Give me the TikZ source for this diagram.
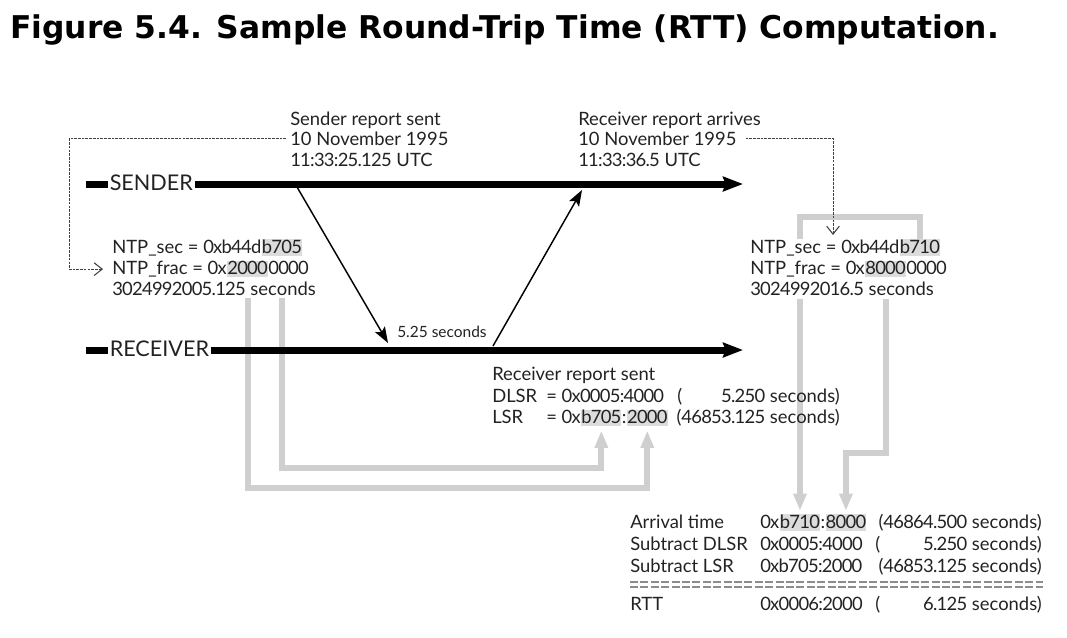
\documentclass[tikz,border=0pt]{standalone}
\usepackage{fontspec}
\setmainfont{Lato}
\newfontfamily\titlefont{DejaVu Sans}
\newcommand\hexsp{\addfontfeature{LetterSpace=-4}}
\usetikzlibrary{arrows.meta,calc}
\pgfdeclarelayer{background}
\pgfsetlayers{background,main}
\definecolor{ink}{HTML}{222222}
\definecolor{hlgray}{HTML}{DCDCDC}
\definecolor{glgray}{HTML}{CFCFCF}
\definecolor{sepgray}{HTML}{8C8C8C}
\begin{document}
\begin{tikzpicture}[x=0.75pt,y=-0.75pt,
  txt/.style={anchor=base west, inner sep=0pt, font=\fontsize{13.8}{17}\selectfont, text=ink},
  txtr/.style={txt, anchor=base east},
  hl/.style={txt, font=\fontsize{13.8}{17}\selectfont\hexsp, fill=hlgray, text height=10pt, text depth=1.7pt, inner ysep=0.4pt},
  lbl/.style={anchor=base west, inner sep=1.5pt, font=\fontsize{16.2}{19}\selectfont, text=ink},
  small/.style={anchor=base west, inner sep=0pt, font=\fontsize{11.6}{13}\selectfont, text=ink},
  barline/.style={line width=5.25pt, black},
  tline/.style={line width=5.25pt, black, -{Stealth[length=15pt,width=11pt,inset=2pt]}},
  msg/.style={line width=1.1pt, black, -{Stealth[length=12pt,width=8.5pt,inset=2.5pt]}},
  dl/.style={line width=0.6pt, black!75, dash pattern=on 2pt off 0.8pt, -{Straight Barb[length=6pt,width=9.5pt,line width=0.8pt]}},
  gl/.style={line width=4.5pt, glgray},
  gla/.style={gl, -{Triangle[length=13pt,width=9.5pt]}},
  sepl/.style={line width=1.5pt, sepgray, dash pattern=on 6pt off 1.8pt}
]
\useasboundingbox (0,0) rectangle (1067,637);

% title
\node[anchor=base west, inner sep=0pt, font=\titlefont\bfseries\fontsize{23.5}{28}\selectfont] (title) at (10,38) {Figure 5.4. Sample Round-Trip Time (RTT) Computation.};

% timelines
\coordinate (sb0) at (86,184);
\node[lbl] (sendl) at (107.5,190.5) {SENDER};
\coordinate (send) at (743,184);
\draw[barline] (sb0) -- (sendl.west |- sb0);
\draw[tline] (sendl.east |- sb0) -- (send);

\coordinate (rb0) at (86,350);
\node[lbl] (recvl) at (107.5,356.5) {RECEIVER};
\coordinate (rend) at (743,350);
\draw[barline] (rb0) -- (recvl.west |- rb0);
\draw[tline] (recvl.east |- rb0) -- (rend);

% top labels
\node[txt] (sr1) at (290,125) {Sender report sent};
\node[txt] (sr2) at (290,145.5) {10 November 1995};
\node[txt] (sr3) at (290,166) {{\hexsp 11:33:25.125} UTC};
\node[txt] (ra1) at (578,125) {Receiver report arrives};
\node[txt] (ra2) at (578,145.5) {10 November 1995};
\node[txt] (ra3) at (578,166) {{\hexsp 11:33:36.5} UTC};

% left NTP block
\node[txt] (lsec0) at (112,253) {NTP\_sec = {\hexsp 0xb44d}};
\node[hl] (lsecB) at (lsec0.base east) {b705};
\node[txt] (lfrac0) at (112,274.5) {NTP\_frac = {\hexsp 0x}};
\node[hl] (lfracB) at (lfrac0.base east) {2000};
\node[txt] (lfracC) at (lfracB.base east) {{\hexsp 0000}};
\node[txt] (lsecs) at (112,295) {{\hexsp 3024992005.125} seconds};

% right NTP block
\node[txt] (rsec0) at (750,253) {NTP\_sec = {\hexsp 0xb44d}};
\node[hl] (rsecB) at (rsec0.base east) {b710};
\node[txt] (rfrac0) at (750,274.5) {NTP\_frac = {\hexsp 0x}};
\node[hl] (rfracB) at (rfrac0.base east) {8000};
\node[txt] (rfracC) at (rfracB.base east) {{\hexsp 0000}};
\node[txt] (rsecs) at (750,295) {{\hexsp 3024992016.5} seconds};

% messages
\coordinate (s1) at (297,187);
\coordinate (r1) at (388,343);
\coordinate (r2) at (493,346);
\coordinate (s2) at (582,190);
\draw[msg] (s1) -- (r1);
\draw[msg] (r2) -- (s2);
\node[small] (dt) at (397,337) {5.25 seconds};

% receiver report block
\node[txt] (rrs) at (492,380) {Receiver report sent};
\node[txt] (dlsrA) at (492,402) {DLSR};
\node[txt] (dlsrB) at (546,402) {= {\hexsp 0x0005:4000}};
\node[txt] (dlsrC) at (677,402) {(};
\node[txtr] (dlsrD) at (840,402) {{\hexsp 5.250} seconds)};
\node[txt] (lsrA) at (492,423.5) {LSR};
\node[txt] (lsrB0) at (546,423.5) {= {\hexsp 0x}};
\node[hl] (lsrB) at (lsrB0.base east) {b705};
\node[txt] (lsrC0) at (lsrB.base east) {:};
\node[hl] (lsrC) at (lsrC0.base east) {2000};
\node[txtr] (lsrD) at (840,423.5) {({\hexsp 46853.125} seconds)};

% bottom table
\node[txt] (t1a) at (630,528) {Arrival time};
\node[txt] (t1b0) at (760,528) {{\hexsp 0x}};
\node[hl] (arrB) at (t1b0.base east) {b710};
\node[txt] (t1c0) at (arrB.base east) {:};
\node[hl] (arrC) at (t1c0.base east) {8000};
\node[txtr] (t1d) at (1042,528) {({\hexsp 46864.500} seconds)};

\node[txt] (t2a) at (630,550) {Subtract DLSR};
\node[txt] (t2b) at (760,550) {{\hexsp 0x0005:4000}};
\node[txt] (t2c) at (875,550) {(};
\node[txtr] (t2d) at (1042,550) {{\hexsp 5.250} seconds)};

\node[txt] (t3a) at (630,572) {Subtract LSR};
\node[txt] (t3b) at (760,572) {{\hexsp 0xb705:2000}};
\node[txtr] (t3d) at (1042,572) {({\hexsp 46853.125} seconds)};

\coordinate (sepA1) at (630,582); \coordinate (sepA2) at (1043,582);
\coordinate (sepB1) at (630,587); \coordinate (sepB2) at (1043,587);
\draw[sepl] (sepA1) -- (sepA2);
\draw[sepl] (sepB1) -- (sepB2);

\node[txt] (t5a) at (630,610) {RTT};
\node[txt] (t5b) at (760,610) {{\hexsp 0x0006:2000}};
\node[txt] (t5c) at (875,610) {(};
\node[txtr] (t5d) at (1042,610) {{\hexsp 6.125} seconds)};

% dashed pointers
\draw[dl] ($(sr2.west)+(-4,0)$) -| ($(lfrac0.west)+(-43,0)$) -- ($(lfrac0.west)+(-9,0)$);
\coordinate (rdlend) at (833,235);
\draw[dl] ($(ra2.east)+(9,0)$) -| (rdlend);

\begin{pgfonlayer}{background}
% gray connectors, left
\coordinate (lbelow) at (0,298);
\coordinate (lin) at (0,468);
\coordinate (lout) at (0,488);
\draw[gla] (lfracB.south |- lbelow) -- (lfracB.south |- lout) -| ($(lsrC.south)+(0,4)$);
\draw[gla] (lsecB.south |- lbelow) -- (lsecB.south |- lin) -| ($(lsrB.south)+(0,4)$);

% gray connectors, right
\coordinate (rtop) at (0,217);
\coordinate (rbelow) at (0,299);
\coordinate (rkink) at (0,453);
\draw[gl] (rsecB.north) -- (rsecB.north |- rtop) -- (arrB.north |- rtop) -- (arrB.north |- rsecB.north);
\draw[gla] (arrB.north |- rbelow) -- ($(arrB.north)+(0,-3)$);
\draw[gla] (rfracB.south |- rbelow) -- (rfracB.south |- rkink) -| ($(arrC.north)+(0,-3)$);
\end{pgfonlayer}
\end{tikzpicture}
\end{document}
